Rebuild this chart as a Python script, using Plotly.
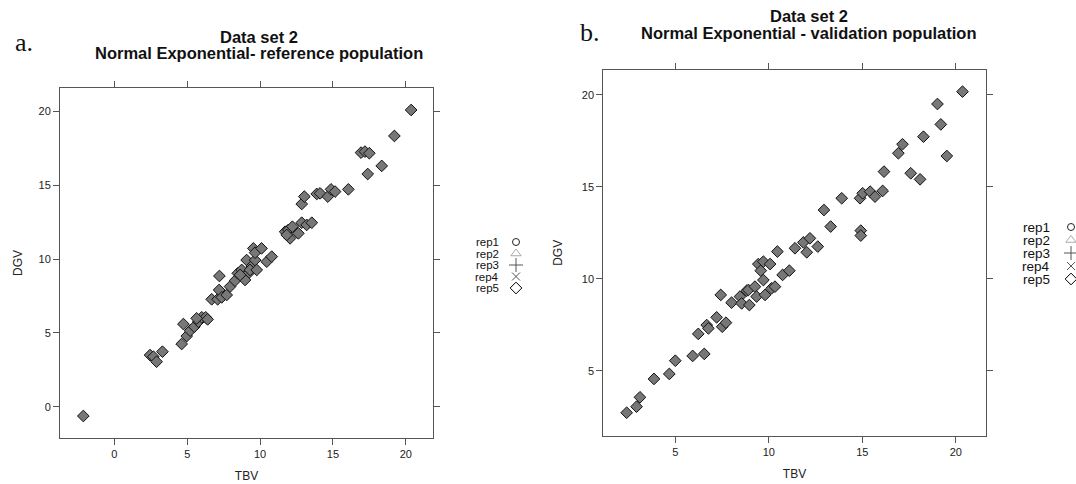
import plotly.graph_objects as go

W, H = 1076, 484

# ---- data: reference population (panel a) ----
tbv_ref = [-2.13, 2.45, 2.68, 2.9, 3.3, 4.62, 4.74, 4.97, 5.2, 5.49, 5.77, 6.0, 6.27, 5.65, 6.4,
           6.68, 7.09, 7.19, 7.37, 7.71, 7.21, 7.94, 8.28, 8.47, 8.74, 8.86, 9.08, 9.2, 9.43, 8.97,
           9.31, 9.66, 9.54, 9.66, 10.1, 9.77, 10.46, 10.8, 8.63, 11.72, 11.94, 12.06, 12.22, 12.63,
           12.86, 13.2, 13.55, 11.83, 12.86, 13.04, 13.89, 14.12, 14.65, 14.87, 15.15, 16.06, 16.93,
           17.2, 17.5, 17.39, 18.35, 19.22, 20.37]
dgv_ref = [-0.63, 3.5, 3.39, 3.05, 3.73, 4.25, 5.6, 4.79, 5.15, 5.42, 5.76, 6.06, 6.06, 5.99, 5.92,
           7.28, 7.28, 7.91, 7.41, 7.57, 8.86, 8.14, 8.54, 9.04, 9.27, 8.81, 9.94, 9.04, 9.54, 8.59,
           9.27, 9.94, 10.73, 10.44, 10.73, 9.27, 9.83, 10.17, 8.93, 11.86, 11.98, 11.41, 12.2, 11.75,
           12.47, 12.32, 12.47, 11.64, 13.74, 14.24, 14.42, 14.46, 14.24, 14.73, 14.58, 14.73, 17.22,
           17.29, 17.18, 15.77, 16.32, 18.35, 20.11]

# ---- data: validation population (panel b) ----
tbv_val = [2.4, 2.93, 3.11, 3.86, 4.68, 5.0, 5.93, 6.55, 6.23, 6.68, 6.77, 7.21, 7.43, 7.51, 7.71,
           8.01, 8.46, 8.55, 8.82, 8.96, 8.91, 9.26, 9.35, 9.44, 9.57, 9.71, 9.71, 9.8, 10.07, 10.15,
           10.33, 10.46, 10.74, 11.1, 11.4, 11.85, 12.03, 12.2, 12.62, 12.95, 13.31, 13.9, 14.88,
           15.02, 15.42, 15.68, 16.09, 14.92, 14.92, 16.16, 16.93, 17.15, 17.59, 18.09, 18.27, 19.02,
           19.2, 19.52, 20.36]
dgv_val = [2.71, 3.04, 3.55, 4.55, 4.82, 5.54, 5.8, 5.91, 7.0, 7.48, 7.3, 7.9, 9.12, 7.39, 7.61,
           8.7, 9.03, 8.66, 9.35, 8.57, 9.39, 9.57, 9.03, 10.8, 10.44, 10.93, 9.93, 9.12, 10.8, 9.48,
           9.57, 11.48, 10.21, 10.44, 11.66, 11.98, 11.44, 12.2, 11.75, 13.74, 12.84, 14.38, 14.38,
           14.65, 14.74, 14.47, 14.78, 12.62, 12.35, 15.83, 16.83, 17.32, 15.74, 15.41, 17.73, 19.51,
           18.4, 16.68, 20.18]

rep_names = ["rep1", "rep2", "rep3", "rep4", "rep5"]
rep_symbols = ["circle-open", "triangle-up-open", "cross-thin-open", "x-thin-open", "diamond-open"]
rep_colors = ["#222222", "#aaaaaa", "#555555", "#555555", "#000000"]
rep_sizes = [7, 9, 10, 8, 9]

x_ticks_ref = [0, 5, 10, 15, 20]
y_ticks_ref = [0, 5, 10, 15, 20]
x_ticks_val = [5, 10, 15, 20]
y_ticks_val = [5, 10, 15, 20]

FONT = "Liberation Sans, Arial, sans-serif"
AXCOL = "#555555"

fig = go.Figure()

marker_style = dict(symbol="diamond", size=9, color="#777777", line=dict(color="#111111", width=1))

fig.add_trace(go.Scatter(x=tbv_ref, y=dgv_ref, mode="markers", marker=marker_style,
                         xaxis="x", yaxis="y", name="rep5", showlegend=False))
fig.add_trace(go.Scatter(x=tbv_val, y=dgv_val, mode="markers", marker=marker_style,
                         xaxis="x2", yaxis="y2", name="rep5", showlegend=False))

# legend keys drawn in a pixel-space overlay axis
legends = [
    dict(text_x=500, sym_x=516, y0=242, dy=11.5, size=11.5),
    dict(text_x=1051, sym_x=1071, y0=227, dy=13, size=13.5),
]
for lg in legends:
    ys = [lg["y0"] + i * lg["dy"] for i in range(len(rep_names))]
    for i, nm in enumerate(rep_names):
        fig.add_trace(go.Scatter(x=[lg["sym_x"]], y=[ys[i]], mode="markers",
                                 marker=dict(symbol=rep_symbols[i], size=rep_sizes[i],
                                             color=rep_colors[i], line=dict(width=1, color=rep_colors[i])),
                                 xaxis="x3", yaxis="y3", showlegend=False, hoverinfo="skip"))
        fig.add_annotation(x=lg["text_x"], y=ys[i], xref="x3", yref="y3", text=nm, showarrow=False,
                           xanchor="right", yanchor="middle", borderpad=0,
                           font=dict(family=FONT, size=lg["size"], color="#111111"))

axis_common = dict(showline=True, linecolor=AXCOL, linewidth=1, mirror="ticks", ticks="outside",
                   ticklen=6, tickcolor=AXCOL, showgrid=False, zeroline=False,
                   tickfont=dict(family=FONT, size=11, color="#222222"))
tfont = dict(family=FONT, size=12, color="#222222")

fig.update_layout(
    width=W, height=H, margin=dict(l=0, r=0, t=0, b=0),
    paper_bgcolor="white", plot_bgcolor="rgba(0,0,0,0)", showlegend=False,
    xaxis=dict(domain=[60 / W, 433 / W], range=[-3.73, 21.87], tickvals=x_ticks_ref,
               title=dict(text="TBV", font=tfont, standoff=12), anchor="y", **axis_common),
    yaxis=dict(domain=[1 - 438 / H, 1 - 88 / H], range=[-2.12, 21.6], tickvals=y_ticks_ref,
               title=dict(text="DGV", font=tfont, standoff=13), anchor="x", **axis_common),
    xaxis2=dict(domain=[603.3 / W, 985.7 / W], range=[1.15, 21.6], tickvals=x_ticks_val,
                title=dict(text="TBV", font=tfont, standoff=12), anchor="y2", **axis_common),
    yaxis2=dict(domain=[1 - 435.7 / H, 1 - 70 / H], range=[1.46, 21.36], tickvals=y_ticks_val,
                title=dict(text="DGV", font=tfont, standoff=16), anchor="x2", **axis_common),
    xaxis3=dict(domain=[0, 1], range=[0, W], visible=False, fixedrange=True),
    yaxis3=dict(domain=[0, 1], range=[H, 0], visible=False, fixedrange=True, anchor="x3"),
)

def title_ann(text, cx, cy, size=16.5):
    fig.add_annotation(x=cx / W, y=1 - cy / H, xref="paper", yref="paper", text="<b>" + text + "</b>",
                       showarrow=False, xanchor="center", yanchor="middle", borderpad=0,
                       font=dict(family=FONT, size=size, color="#111111"))

title_ann("Data set 2", 259, 37)
title_ann("Normal Exponential- reference population", 259, 53)
title_ann("Data set 2", 809, 16.5)
title_ann("Normal Exponential - validation population", 809, 33)

for lbl, px, py in [("a.", 24, 42), ("b.", 590, 33)]:
    fig.add_annotation(x=px / W, y=1 - py / H, xref="paper", yref="paper", text=lbl, showarrow=False,
                       xanchor="center", yanchor="middle",
                       font=dict(family="Liberation Serif, DejaVu Serif, serif", size=26, color="#111111"))

fig.write_html("out.html")
